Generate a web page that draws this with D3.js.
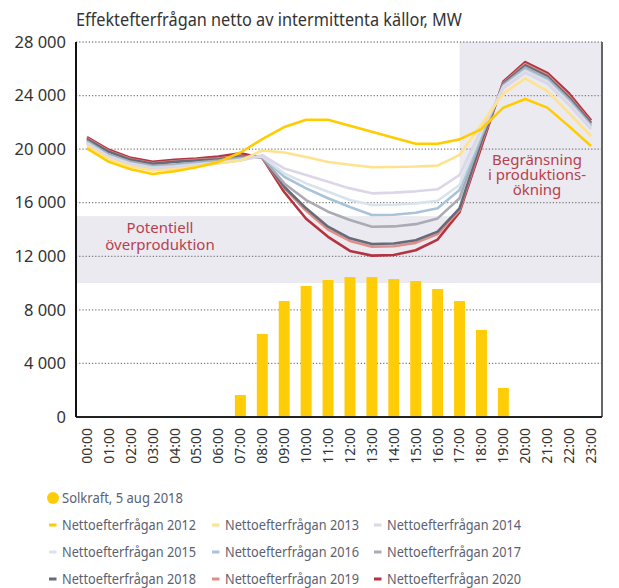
<!DOCTYPE html>
<html>
<head>
<meta charset="utf-8">
<script src="https://cdn.jsdelivr.net/npm/d3@7"></script>
<style>
  body { margin: 0; background: #fff; }
  svg text { font-family: "Noto Sans", sans-serif; }
</style>
</head>
<body>
<div id="chart"></div>
<script>
// data
const hours = ["00:00","01:00","02:00","03:00","04:00","05:00","06:00","07:00","08:00","09:00","10:00","11:00",
               "12:00","13:00","14:00","15:00","16:00","17:00","18:00","19:00","20:00","21:00","22:00","23:00"];
const yTicks = [0, 4000, 8000, 12000, 16000, 20000, 24000, 28000];
const solkraft = [0,0,0,0,0,0,0,1640,6200,8660,9780,10230,10450,10450,10300,10150,9560,8660,6500,2170,0,0,0,0];

const years = ["2012","2013","2014","2015","2016","2017","2018","2019","2020"];
const yearColors = ["#ffcc00","#ffe28f","#dcd6e6","#d8e3ec","#a9c3d8","#aaabb5","#656b7a","#de9088","#b5323f"];

const netto2012 = [20060,19050,18500,18150,18350,18650,19050,19750,20750,21650,22200,22200,21750,21300,20850,20400,20400,20730,21500,23100,23750,23100,21700,20230];
const netto2013 = [20250,19250,18700,18400,18500,18700,18950,19150,19900,19750,19420,19040,18840,18650,18670,18700,18770,19570,21850,24150,25280,24340,22680,20980];
const netto2014 = [20400,19400,18850,18550,18650,18800,18950,19150,19550,18560,18070,17570,17070,16700,16750,16850,17000,18070,21500,24550,25700,24900,23300,21500];
const netto2015 = [20450,19450,18900,18600,18700,18850,19000,19200,19450,18190,17440,16820,16200,15830,15850,15950,16150,17320,21300,24650,25850,25050,23450,21600];
const netto2016 = [20500,19500,18950,18650,18750,18900,19050,19250,19450,17940,17070,16330,15680,15080,15100,15250,15580,16950,21100,24700,25950,25150,23550,21700];
const netto2017 = [20600,19600,19050,18750,18850,19000,19150,19350,19400,17440,16200,15330,14710,14210,14230,14400,14830,16330,20900,24800,26100,25300,23700,21800];
const netto2018 = [20750,19800,19200,18900,19050,19150,19250,19450,19400,17190,15580,14210,13340,12920,12950,13200,13840,15580,20600,24900,26250,25450,23850,21950];
const netto2019 = [20800,19850,19250,18950,19100,19200,19300,19500,19350,17100,15400,14000,13150,12720,12750,13000,13660,15450,20450,24950,26350,25550,23950,22000];
const netto2020 = [20900,19950,19350,19050,19200,19300,19450,19700,19350,16800,14800,13450,12400,12050,12100,12450,13250,15300,20200,25050,26500,25700,24150,22150];
const series = [netto2012, netto2013, netto2014, netto2015, netto2016, netto2017, netto2018, netto2019, netto2020];

const W = 619, H = 588;
const margin = {top: 42, right: 17, bottom: 171, left: 76};
const width = W - margin.left - margin.right;
const height = H - margin.top - margin.bottom;

const svg = d3.select("#chart").append("svg")
    .attr("width", W)
    .attr("height", H);

// title (the original type is a bit narrow, so squeeze it to the same length)
svg.append("text")
    .attr("x", 76)
    .attr("y", 26)
    .attr("fill", "#333")
    .attr("textLength", 386)
    .attr("lengthAdjust", "spacingAndGlyphs")
    .style("font-size", "17.5px")
    .text("Effektefterfrågan netto av intermittenta källor, MW");

const g = svg.append("g")
    .attr("transform", `translate(${margin.left}, ${margin.top})`);

const x = d3.scaleBand().domain(hours).range([0, width]).paddingInner(0.5).paddingOuter(0.25);
const xc = (d) => x(d) + x.bandwidth() / 2;
const y = d3.scaleLinear().domain([0, 28000]).range([height, 0]);

// shaded areas
g.append("rect")
    .attr("x", 0).attr("width", width)
    .attr("y", y(15000)).attr("height", y(10000) - y(15000))
    .attr("fill", "#ebeaf0");
g.append("rect")
    .attr("x", xc("17:00")).attr("width", width - xc("17:00"))
    .attr("y", y(28000)).attr("height", y(10000) - y(28000))
    .attr("fill", "#ebeaf0");

// dotted grid
g.append("g").selectAll("line")
    .data(yTicks.filter(d => d > 0))
    .enter().append("line")
      .attr("x1", 0).attr("x2", width)
      .attr("y1", d => y(d)).attr("y2", d => y(d))
      .attr("stroke", d => d === 28000 ? "#444" : "#777")
      .attr("stroke-width", 1.2)
      .attr("stroke-dasharray", "1.2,2");

// solar bars
g.append("g").selectAll("rect")
    .data(hours.map((h, i) => ({h: h, v: solkraft[i]})).filter(d => d.v > 0))
    .enter().append("rect")
      .attr("x", d => x(d.h))
      .attr("width", x.bandwidth())
      .attr("y", d => y(d.v))
      .attr("height", d => y(0) - y(d.v))
      .attr("fill", "#ffcd07");

// lines, 2020 drawn first so 2012 ends up on top
const line = d3.line()
    .x((d, i) => xc(hours[i]))
    .y(d => y(d));
for (let k = series.length - 1; k >= 0; k--) {
  g.append("path")
      .datum(series[k])
      .attr("fill", "none")
      .attr("stroke", yearColors[k])
      .attr("stroke-width", 2.6)
      .attr("stroke-linejoin", "round")
      .attr("d", line);
}

// frame
g.append("line").attr("x1", width).attr("x2", width).attr("y1", 0).attr("y2", height)
    .attr("stroke", "#666").attr("stroke-width", 2);
g.append("line").attr("x1", 0).attr("x2", width).attr("y1", height).attr("y2", height)
    .attr("stroke", "#222").attr("stroke-width", 2);
g.append("line").attr("x1", 0).attr("x2", 0).attr("y1", 0).attr("y2", height)
    .attr("stroke", "#111").attr("stroke-width", 2);

// y axis labels
g.append("g").selectAll("text")
    .data(yTicks)
    .enter().append("text")
      .attr("x", -10)
      .attr("y", d => y(d))
      .attr("dy", "0.35em")
      .attr("text-anchor", "end")
      .attr("fill", "#333")
      .style("font-size", "16.5px")
      .text(d => d3.format(",")(d).replace(",", " "));

// x axis labels, rotated
g.append("g").selectAll("text")
    .data(hours)
    .enter().append("text")
      .attr("transform", d => `translate(${xc(d)}, ${height + 11}) rotate(-90)`)
      .attr("dy", "0.35em")
      .attr("text-anchor", "end")
      .attr("fill", "#333")
      .style("font-size", "14px")
      .text(d => d);

// annotations
g.append("text")
    .attr("text-anchor", "middle")
    .attr("fill", "#b8404f")
    .style("font-size", "15px")
    .selectAll("tspan")
    .data(["Potentiell", "överproduktion"])
    .enter().append("tspan")
      .attr("x", 84)
      .attr("y", (d, i) => 191 + i * 17)
      .text(d => d);

g.append("text")
    .attr("text-anchor", "middle")
    .attr("fill", "#b8404f")
    .style("font-size", "15px")
    .selectAll("tspan")
    .data(["Begränsning", "i produktions-", "ökning"])
    .enter().append("tspan")
      .attr("x", 461)
      .attr("y", (d, i) => 123 + i * 15)
      .text(d => d);

// legend
svg.append("circle")
    .attr("cx", 53).attr("cy", 498).attr("r", 6)
    .attr("fill", "#ffcd07");
svg.append("text")
    .attr("x", 62).attr("y", 498).attr("dy", "0.35em")
    .attr("fill", "#5b6170")
    .attr("textLength", 121)
    .attr("lengthAdjust", "spacingAndGlyphs")
    .style("font-size", "15px")
    .text("Solkraft, 5 aug 2018");

const legendX = [49, 212, 374];
const legendY = [525, 552, 579];
const leg = svg.append("g").selectAll("g")
    .data(years)
    .enter().append("g")
      .attr("transform", (d, i) => `translate(${legendX[i % 3]}, ${legendY[Math.floor(i / 3)]})`);
leg.append("rect")
    .attr("x", 0).attr("y", -1.5)
    .attr("width", 7.5).attr("height", 3)
    .attr("fill", (d, i) => yearColors[i]);
leg.append("text")
    .attr("x", 13).attr("dy", "0.35em")
    .attr("fill", "#5b6170")
    .attr("textLength", 134)
    .attr("lengthAdjust", "spacingAndGlyphs")
    .style("font-size", "15px")
    .text(d => "Nettoefterfrågan " + d);
</script>
</body>
</html>
